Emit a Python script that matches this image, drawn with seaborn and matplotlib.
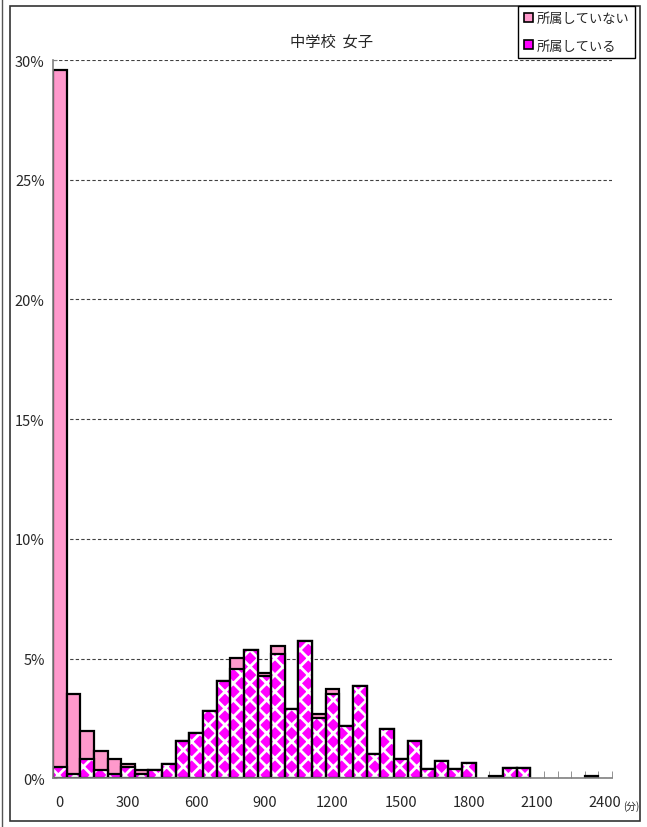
import numpy as np
import pandas as pd
import seaborn as sns
import matplotlib.pyplot as plt
from matplotlib.patches import Patch, Rectangle
from matplotlib.lines import Line2D

sns.set_style("white")
plt.rcParams["font.family"] = ["Noto Sans CJK JP", "DejaVu Sans"]
plt.rcParams["hatch.linewidth"] = 2.0

# 1週間の運動時間 (60分刻み)
minutes = list(range(0, 2401, 60))

# 所属している (下段, %)
joined = [0.46, 0.18, 0.81, 0.35, 0.18, 0.46, 0.18, 0.35, 0.60, 1.55,
          1.88, 2.81, 4.07, 4.58, 5.34, 4.27, 5.20, 2.90, 5.75, 2.51,
          3.53, 2.20, 3.87, 1.03, 2.07, 0.81, 1.56, 0.39, 0.73, 0.39,
          0.63, 0.00, 0.00, 0.42, 0.42, 0.00, 0.00, 0.00, 0.00, 0.00,
          0.00]
# 所属していない (上に積む, %)
not_joined = [29.14, 3.35, 1.16, 0.77, 0.63, 0.14, 0.17, 0.00, 0.00, 0.00,
              0.00, 0.00, 0.00, 0.43, 0.00, 0.11, 0.33, 0.00, 0.00, 0.18,
              0.21, 0.00, 0.00, 0.00, 0.00, 0.00, 0.00, 0.00, 0.00, 0.00,
              0.00, 0.00, 0.10, 0.00, 0.00, 0.00, 0.00, 0.00, 0.00, 0.10,
              0.00]

y_ticks = [0, 5, 10, 15, 20, 25, 30]
y_labels = ["0%", "5%", "10%", "15%", "20%", "25%", "30%"]
x_labels = ["0", "300", "600", "900", "1200", "1500", "1800", "2100", "2400"]

df = pd.DataFrame({"minutes": [str(m) for m in minutes],
                   "joined": joined, "not_joined": not_joined})
df["total"] = df.joined + df.not_joined
order = df.minutes.tolist()

pink = "#FF99CC"
magenta = "#FF00FF"

fig = plt.figure(figsize=(6.47, 8.28), dpi=100)
ax = fig.add_axes([0.082, 0.0588, 0.864, 0.8675])

# stacked: total in pink behind, joined part patterned in front
sns.barplot(data=df, x="minutes", y="total", order=order, color=pink,
            saturation=1, width=1, edgecolor="black", linewidth=1.6, ax=ax)
sns.barplot(data=df, x="minutes", y="joined", order=order, color=magenta,
            saturation=1, width=1, edgecolor="white", linewidth=0,
            hatch="xx", ax=ax)
sns.barplot(data=df, x="minutes", y="joined", order=order, color="black",
            fill=False, width=1, linewidth=1.6, ax=ax)

# hide empty bars so the axis stays grey there
for p in ax.patches:
    if p.get_height() == 0:
        p.set_visible(False)

ax.set_xlim(-0.5, len(minutes) - 0.5)
ax.set_ylim(0, 30)
ax.set_xlabel("")
ax.set_ylabel("")

ax.set_yticks(y_ticks, y_labels)
ax.set_xticks(range(0, len(minutes), 5), x_labels)
ax.set_xticks(np.arange(-0.5, len(minutes), 1), minor=True)
ax.tick_params(axis="y", direction="in", length=3, color="#808080",
               labelsize=10.5, pad=6, left=True)
ax.tick_params(axis="x", which="major", length=0, labelsize=10.5, pad=12)
ax.tick_params(axis="x", which="minor", direction="in", length=5,
               color="#808080", bottom=True)

ax.yaxis.grid(True, linestyle=(0, (3, 2)), color="#404040", linewidth=0.8)
ax.set_axisbelow(True)
for side in ["top", "right"]:
    ax.spines[side].set_visible(False)
for side in ["left", "bottom"]:
    ax.spines[side].set_color("#808080")
    ax.spines[side].set_linewidth(1.2)

fig.text(0.512, 0.949, "中学校  女子", ha="center", va="center", fontsize=11)
fig.text(0.976, 0.026, "(分)", ha="center", va="center", fontsize=7)

handles = [Patch(facecolor=pink, edgecolor="black", linewidth=1.2),
           Patch(facecolor=magenta, edgecolor="black", linewidth=1.2)]
fig.legend(handles, ["所属していない", "所属している"], loc="upper left",
           bbox_to_anchor=(0.80, 0.9915), fontsize=9.5, frameon=True,
           fancybox=False, framealpha=1, edgecolor="black",
           handlelength=0.7, handleheight=0.7, handletextpad=0.3,
           borderpad=0.45, labelspacing=1.1, borderaxespad=0)

# outer chart frame
fig.add_artist(Rectangle((10 / 647, 1 - 822 / 828), 630 / 647, 815 / 828,
                         transform=fig.transFigure, fill=False,
                         edgecolor="#333333", linewidth=1.2))
fig.add_artist(Line2D([2 / 647, 2 / 647], [0, 1], transform=fig.transFigure,
                      color="#555555", linewidth=1))

fig.savefig("out.png", dpi=100)
